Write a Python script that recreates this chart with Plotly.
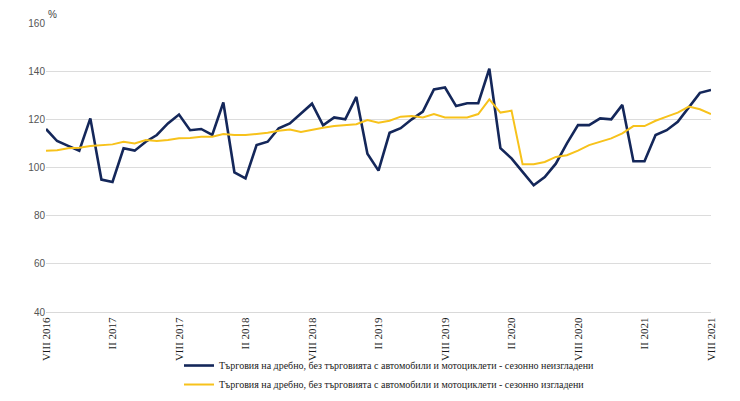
import plotly.graph_objects as go

roman = ["I", "II", "III", "IV", "V", "VI", "VII", "VIII", "IX", "X", "XI", "XII"]
months = []
y, m = 2016, 8
while (y, m) <= (2021, 8):
    months.append(f"{roman[m-1]} {y}")
    m += 1
    if m > 12:
        m = 1
        y += 1

not_adjusted = [116, 111, 109, 107, 120.4, 95, 94, 108, 107, 110.7,
                113.5, 118.3, 122, 115.5, 116, 113.5, 127, 98, 95.5, 109.3,
                110.7, 116.3, 118.3, 122.5, 126.5, 117.5, 120.8, 120, 129.3, 105.7,
                98.7, 114.4, 116.3, 120, 123.2, 132.4, 133.2, 125.5, 126.7, 126.7,
                141, 108, 103.8, 98.2, 92.6, 96, 101.6, 110, 117.6, 117.6,
                120.4, 120, 126, 102.6, 102.6, 113.5, 115.5, 119, 125, 131,
                132.2]

adjusted = [107, 107.2, 108, 108.2, 108.9, 109.3, 109.6, 110.7, 110, 111.4,
            111, 111.4, 112.1, 112.3, 112.8, 112.8, 113.9, 113.5, 113.5, 113.9,
            114.4, 115.3, 115.8, 114.8, 115.8, 116.5, 117.2, 117.6, 118, 119.7,
            118.6, 119.4, 121.1, 121.4, 120.8, 122.2, 120.8, 120.8, 120.8, 122.2,
            128.3, 122.8, 123.6, 101.4, 101.4, 102.3, 104.4, 105.1, 107, 109.3,
            110.7, 112.1, 114.2, 117.2, 117.2, 119.4, 121.1, 122.8, 125.3, 124.2,
            122.2]

name_na = "Търговия на дребно, без търговията с автомобили и мотоциклети - сезонно неизгладени"
name_a = "Търговия на дребно, без търговията с автомобили и мотоциклети - сезонно изгладени"

tick_labels = months[::6]

fig = go.Figure()
fig.add_trace(go.Scatter(x=months, y=not_adjusted, mode="lines", name=name_na,
                         line=dict(color="#14275A", width=2.6)))
fig.add_trace(go.Scatter(x=months, y=adjusted, mode="lines", name=name_a,
                         line=dict(color="#F7C21B", width=2)))

fig.update_layout(
    width=740, height=401,
    margin=dict(l=38, r=37, t=15, b=97, autoexpand=False),
    plot_bgcolor="white", paper_bgcolor="white",
    showlegend=True,
    legend=dict(x=0.2, y=-0.135, xanchor="left", yanchor="top",
                font=dict(family="Liberation Serif", size=10, color="#1a1a1a"),
                tracegroupgap=0, itemwidth=30, bgcolor="rgba(0,0,0,0)"),
    annotations=[dict(text="%", xref="paper", yref="paper", x=0, y=1.0,
                      xanchor="left", yanchor="bottom", yshift=1, showarrow=False,
                      font=dict(family="Liberation Sans", size=10, color="#404040"))],
)
fig.update_xaxes(type="category", range=[0, len(months) - 1],
                 tickmode="array", tickvals=tick_labels, ticktext=tick_labels,
                 tickangle=-90, showgrid=False, showline=True, linecolor="#D9D9D9",
                 ticks="", tickfont=dict(family="Liberation Serif", size=11, color="#1a1a1a"))
fig.update_yaxes(range=[40, 160], dtick=20, showgrid=True, gridcolor="#DCDCDC",
                 gridwidth=1, zeroline=False, ticks="",
                 tickfont=dict(family="Liberation Sans", size=10, color="#555555"))

fig.write_html("out.html")
